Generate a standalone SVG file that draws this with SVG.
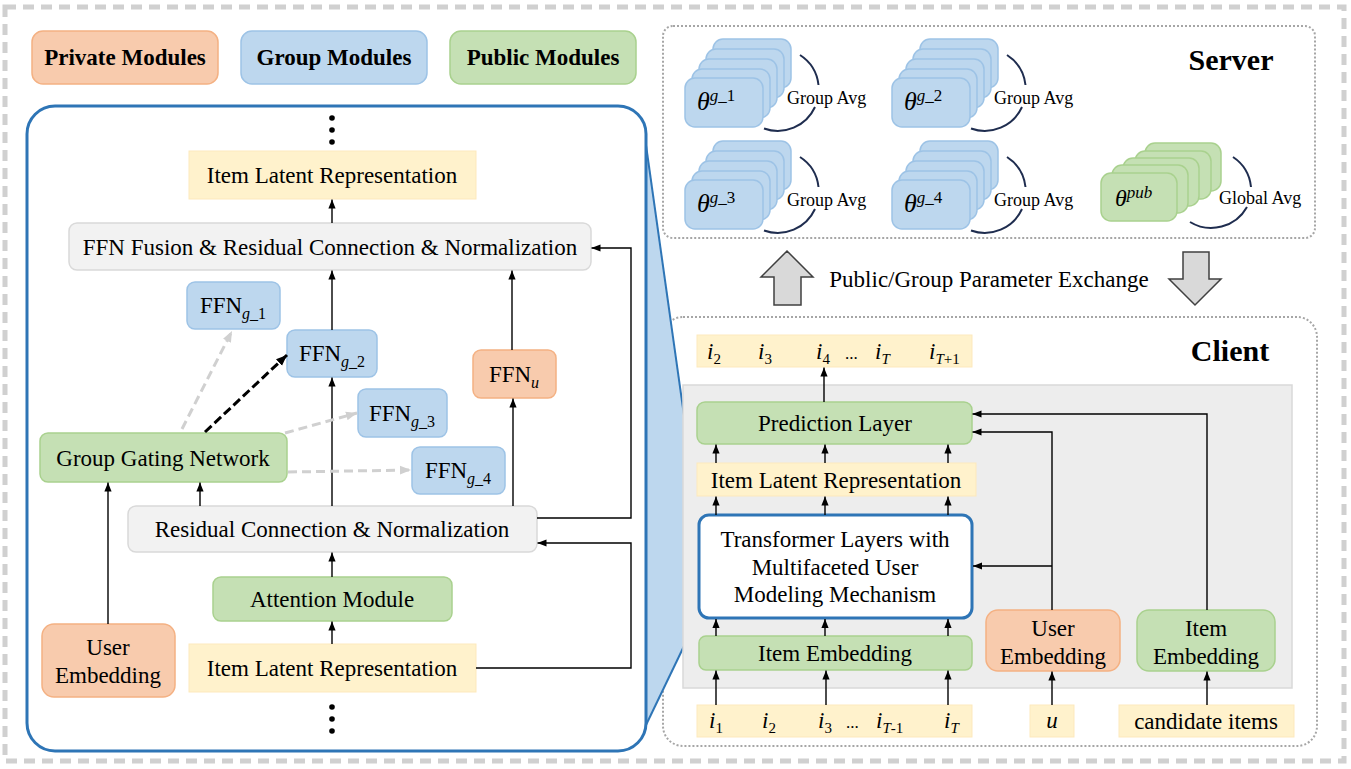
<svg xmlns="http://www.w3.org/2000/svg" width="1351" height="769" viewBox="0 0 1351 769">
<defs>
<marker id="ah" viewBox="0 0 10 10" refX="10" refY="5" markerWidth="9" markerHeight="9" markerUnits="userSpaceOnUse" orient="auto"><path d="M0,1 L10,5 L0,9 z" fill="#000"/></marker>
<marker id="ahg" viewBox="0 0 10 10" refX="10" refY="5" markerWidth="11" markerHeight="11" markerUnits="userSpaceOnUse" orient="auto"><path d="M0,1 L10,5 L0,9 z" fill="#d0d0d0"/></marker>
<marker id="ahk" viewBox="0 0 10 10" refX="10" refY="5" markerWidth="11" markerHeight="11" markerUnits="userSpaceOnUse" orient="auto"><path d="M0,1 L10,5 L0,9 z" fill="#000"/></marker>
</defs>
<style>
text{font-family:"Liberation Serif","Times New Roman",serif;fill:#000}
.t{font-size:23px;text-anchor:middle}
.lg{font-size:23px;font-weight:bold;text-anchor:middle}
.ttl{font-size:30px;font-weight:bold;text-anchor:middle}
.avg{font-size:18px}
.or{fill:#f8cbad;stroke:#f4b183;stroke-width:1.5}
.bl{fill:#bdd7ee;stroke:#9dc3e6;stroke-width:1.5}
.gr{fill:#c5e0b4;stroke:#a9d18e;stroke-width:1.5}
.ye{fill:#fff2cc;stroke:#fde9bd;stroke-width:1}
.gy{fill:#f2f2f2;stroke:#d9d9d9;stroke-width:1.5}
.c{fill:none;stroke:#000;stroke-width:1.4}
.arc{fill:none;stroke:#1f2d4f;stroke-width:2}
.it{font-style:italic}
</style>
<rect width="1351" height="769" fill="#fff"/>
<rect x="5" y="7" width="1339" height="754" fill="none" stroke="#d0d0d0" stroke-width="5" stroke-dasharray="11 7"/>

<g id="legend">
<g id="legend-private"><rect x="32" y="31" width="186" height="53" rx="11" class="or"/><text x="125" y="65" class="lg">Private Modules</text></g>
<g id="legend-group"><rect x="241" y="31" width="186" height="53" rx="11" class="bl"/><text x="334" y="65" class="lg">Group Modules</text></g>
<g id="legend-public"><rect x="450" y="31" width="186" height="53" rx="11" class="gr"/><text x="543" y="65" class="lg">Public Modules</text></g>
</g>

<rect id="server-frame" x="663" y="26" width="652" height="212" rx="10" fill="none" stroke="#a6a6a6" stroke-width="2" stroke-dasharray="2 2"/>
<rect id="client-frame" x="663" y="317" width="654" height="429" rx="20" fill="none" stroke="#a6a6a6" stroke-width="2" stroke-dasharray="2 2"/>

<polygon points="645,138 698,515 698,617 646,725" fill="#bdd7ee"/>
<line x1="645" y1="138" x2="698" y2="515" stroke="#2e75b6" stroke-width="2"/>
<line x1="646" y1="725" x2="698" y2="617" stroke="#2e75b6" stroke-width="2"/>

<rect id="detail-panel" x="27" y="106" width="619" height="645" rx="28" fill="#fff" stroke="#2e75b6" stroke-width="3"/>

<g id="dots-top"><circle cx="332" cy="118" r="2.8"/><circle cx="332" cy="130" r="2.8"/><circle cx="332" cy="142" r="2.8"/></g>
<g id="dots-bottom"><circle cx="332" cy="707" r="2.8"/><circle cx="332" cy="719" r="2.8"/><circle cx="332" cy="731" r="2.8"/></g>

<g id="ilr-top"><rect x="189" y="151" width="287" height="48" class="ye"/><text x="332" y="183" class="t">Item Latent Representation</text></g>
<g id="ffn-fusion"><rect x="69" y="223" width="522" height="47" rx="8" class="gy"/><text x="330" y="255" class="t">FFN Fusion &amp; Residual Connection &amp; Normalization</text></g>
<g id="ffn-g1"><rect x="187" y="282" width="93" height="47" rx="8" class="bl"/><text x="233" y="313" class="t">FFN<tspan font-size="16" dy="6"><tspan class="it">g</tspan>_1</tspan></text></g>
<g id="ffn-g2"><rect x="287" y="330" width="90" height="47" rx="8" class="bl"/><text x="332" y="361" class="t">FFN<tspan font-size="16" dy="6"><tspan class="it">g</tspan>_2</tspan></text></g>
<g id="ffn-g3"><rect x="358" y="389" width="89" height="48" rx="8" class="bl"/><text x="402" y="421" class="t">FFN<tspan font-size="16" dy="6"><tspan class="it">g</tspan>_3</tspan></text></g>
<g id="ffn-g4"><rect x="412" y="447" width="93" height="47" rx="8" class="bl"/><text x="458" y="478" class="t">FFN<tspan font-size="16" dy="6"><tspan class="it">g</tspan>_4</tspan></text></g>
<g id="ffn-u"><rect x="473" y="350" width="83" height="48" rx="8" class="or"/><text x="514" y="382" class="t">FFN<tspan font-size="16" dy="6" class="it">u</tspan></text></g>
<g id="gating"><rect x="40" y="433" width="247" height="49" rx="8" class="gr"/><text x="163" y="466" class="t">Group Gating Network</text></g>
<g id="residual"><rect x="128" y="506" width="409" height="46" rx="8" class="gy"/><text x="332" y="537" class="t">Residual Connection &amp; Normalization</text></g>
<g id="attention"><rect x="213" y="577" width="239" height="44" rx="8" class="gr"/><text x="332" y="607" class="t">Attention Module</text></g>
<g id="user-emb-left"><rect x="42" y="624" width="133" height="73" rx="12" class="or"/><text x="108" y="655" class="t">User</text><text x="108" y="683" class="t">Embedding</text></g>
<g id="ilr-bottom"><rect x="189" y="644" width="287" height="48" class="ye"/><text x="332" y="676" class="t">Item Latent Representation</text></g>

<g id="server">
<text x="1231" y="70" class="ttl">Server</text>
<g id="stack-g1">
<rect x="713" y="39" width="78" height="49" rx="10" class="bl"/>
<rect x="706" y="49" width="78" height="49" rx="10" class="bl"/>
<rect x="699" y="59" width="78" height="49" rx="10" class="bl"/>
<rect x="692" y="69" width="78" height="49" rx="10" class="bl"/>
<rect x="685" y="78" width="78" height="49" rx="10" class="bl"/>
<text x="697" y="110" font-size="26" class="it">θ<tspan font-size="17" dy="-9">g</tspan><tspan font-size="17" font-style="normal">_1</tspan></text>
<path d="M800,55 A41,41 0 0 1 818.5,85" class="arc"/><path d="M815,107 A41,41 0 0 1 764,128.5" class="arc"/>
<text x="787" y="104" class="avg">Group Avg</text>
</g>
<g id="stack-g2">
<rect x="920" y="39" width="78" height="49" rx="10" class="bl"/>
<rect x="913" y="49" width="78" height="49" rx="10" class="bl"/>
<rect x="906" y="59" width="78" height="49" rx="10" class="bl"/>
<rect x="899" y="69" width="78" height="49" rx="10" class="bl"/>
<rect x="892" y="78" width="78" height="49" rx="10" class="bl"/>
<text x="904" y="110" font-size="26" class="it">θ<tspan font-size="17" dy="-9">g</tspan><tspan font-size="17" font-style="normal">_2</tspan></text>
<path d="M1007,55 A41,41 0 0 1 1025.5,85" class="arc"/><path d="M1022,107 A41,41 0 0 1 971,128.5" class="arc"/>
<text x="994" y="104" class="avg">Group Avg</text>
</g>
<g id="stack-g3">
<rect x="713" y="141" width="78" height="49" rx="10" class="bl"/>
<rect x="706" y="151" width="78" height="49" rx="10" class="bl"/>
<rect x="699" y="161" width="78" height="49" rx="10" class="bl"/>
<rect x="692" y="171" width="78" height="49" rx="10" class="bl"/>
<rect x="685" y="180" width="78" height="49" rx="10" class="bl"/>
<text x="697" y="212" font-size="26" class="it">θ<tspan font-size="17" dy="-9">g</tspan><tspan font-size="17" font-style="normal">_3</tspan></text>
<path d="M800,157 A41,41 0 0 1 818.5,187" class="arc"/><path d="M815,209 A41,41 0 0 1 764,230.5" class="arc"/>
<text x="787" y="206" class="avg">Group Avg</text>
</g>
<g id="stack-g4">
<rect x="920" y="141" width="78" height="49" rx="10" class="bl"/>
<rect x="913" y="151" width="78" height="49" rx="10" class="bl"/>
<rect x="906" y="161" width="78" height="49" rx="10" class="bl"/>
<rect x="899" y="171" width="78" height="49" rx="10" class="bl"/>
<rect x="892" y="180" width="78" height="49" rx="10" class="bl"/>
<text x="904" y="212" font-size="26" class="it">θ<tspan font-size="17" dy="-9">g</tspan><tspan font-size="17" font-style="normal">_4</tspan></text>
<path d="M1007,157 A41,41 0 0 1 1025.5,187" class="arc"/><path d="M1022,209 A41,41 0 0 1 971,230.5" class="arc"/>
<text x="994" y="206" class="avg">Group Avg</text>
</g>
<g id="stack-pub">
<rect x="1145" y="143" width="76" height="48" rx="10" class="gr"/>
<rect x="1135" y="151" width="76" height="48" rx="10" class="gr"/>
<rect x="1123" y="158" width="76" height="48" rx="10" class="gr"/>
<rect x="1112" y="165" width="76" height="48" rx="10" class="gr"/>
<rect x="1101" y="173" width="76" height="48" rx="10" class="gr"/>
<text x="1115" y="206" font-size="24" class="it">θ<tspan font-size="17" dy="-8">pub</tspan></text>
<path d="M1233,157 A41,41 0 0 1 1251,187" class="arc"/><path d="M1247,207 A41,41 0 0 1 1190,222" class="arc"/>
<text x="1219" y="204" class="avg">Global Avg</text>
</g>
</g>

<g id="exchange">
<path d="M787,251 L813,277 L801,277 L801,305 L774,305 L774,277 L761,277 Z" fill="#d9d9d9" stroke="#404040" stroke-width="1.5"/>
<path d="M1183,252 L1209,252 L1209,279 L1221,279 L1195,305 L1169,279 L1183,279 Z" fill="#d9d9d9" stroke="#404040" stroke-width="1.5"/>
<text x="989" y="287" font-size="23" text-anchor="middle">Public/Group Parameter Exchange</text>
</g>

<g id="client">
<text x="1230" y="361" class="ttl">Client</text>
<rect x="683" y="385" width="609" height="303" fill="#ededed" stroke="#d9d9d9" stroke-width="1.5"/>
<g id="out-items"><rect x="697" y="335" width="275" height="32" class="ye"/>
<text y="359" font-size="23"><tspan x="707" class="it">i</tspan><tspan font-size="15" dy="5">2</tspan><tspan x="758" dy="-5" class="it">i</tspan><tspan font-size="15" dy="5">3</tspan><tspan x="816" dy="-5" class="it">i</tspan><tspan font-size="15" dy="5">4</tspan><tspan x="845" dy="-5" font-size="17">...</tspan><tspan x="875" class="it">i</tspan><tspan font-size="15" dy="5" class="it">T</tspan><tspan x="929" dy="-5" class="it">i</tspan><tspan font-size="15" dy="5"><tspan class="it">T</tspan>+1</tspan></text></g>
<g id="prediction"><rect x="697" y="402" width="275" height="42" rx="8" class="gr"/><text x="835" y="431" class="t">Prediction Layer</text></g>
<g id="ilr-client"><rect x="697" y="463" width="279" height="33" class="ye"/><text x="836" y="488" class="t">Item Latent Representation</text></g>
<g id="transformer"><rect x="699" y="515" width="273" height="103" rx="10" fill="#fff" stroke="#2e75b6" stroke-width="3"/><text x="835" y="547" class="t">Transformer Layers with</text><text x="835" y="575" class="t">Multifaceted User</text><text x="835" y="602" class="t">Modeling Mechanism</text></g>
<g id="item-emb"><rect x="699" y="636" width="273" height="34" rx="7" class="gr"/><text x="835" y="661" class="t">Item Embedding</text></g>
<g id="user-emb"><rect x="986" y="610" width="134" height="61" rx="12" class="or"/><text x="1053" y="636" class="t">User</text><text x="1053" y="664" class="t">Embedding</text></g>
<g id="item-emb-cand"><rect x="1137" y="610" width="138" height="61" rx="12" class="gr"/><text x="1206" y="636" class="t">Item</text><text x="1206" y="664" class="t">Embedding</text></g>
<g id="in-items"><rect x="697" y="705" width="275" height="32" class="ye"/>
<text y="728" font-size="23"><tspan x="709" class="it">i</tspan><tspan font-size="15" dy="5">1</tspan><tspan x="762" dy="-5" class="it">i</tspan><tspan font-size="15" dy="5">2</tspan><tspan x="818" dy="-5" class="it">i</tspan><tspan font-size="15" dy="5">3</tspan><tspan x="846" dy="-5" font-size="17">...</tspan><tspan x="876" class="it">i</tspan><tspan font-size="15" dy="5"><tspan class="it">T</tspan>-1</tspan><tspan x="944" dy="-5" class="it">i</tspan><tspan font-size="15" dy="5" class="it">T</tspan></text></g>
<g id="u-input"><rect x="1030" y="705" width="44" height="32" class="ye"/><text x="1052" y="728" class="t it">u</text></g>
<g id="cand-input"><rect x="1119" y="705" width="175" height="32" class="ye"/><text x="1206" y="729" class="t">candidate items</text></g>
</g>

<g id="connectors">
<path d="M332,223 L332,199.5" class="c" marker-end="url(#ah)"/>
<path d="M332,330 L332,270.5" class="c" marker-end="url(#ah)"/>
<path d="M512,350 L512,270.5" class="c" marker-end="url(#ah)"/>
<path d="M537,518 L631,518 L631,248 L591.5,248" class="c" stroke="#333" marker-end="url(#ah)"/>
<path d="M476,668 L631,668 L631,543 L537.5,543" class="c" stroke="#333" marker-end="url(#ah)"/>
<path d="M332,644 L332,621.5" class="c" marker-end="url(#ah)"/>
<path d="M332,577 L332,552.5" class="c" marker-end="url(#ah)"/>
<path d="M200,506 L200,482.5" class="c" marker-end="url(#ah)"/>
<path d="M332,506 L332,377.5" class="c" marker-end="url(#ah)"/>
<path d="M513,506 L513,398.5" class="c" marker-end="url(#ah)"/>
<path d="M108,624 L108,482.5" class="c" marker-end="url(#ah)"/>
<path d="M182,429 L232,331" fill="none" stroke="#d0d0d0" stroke-width="3" stroke-dasharray="9 5" marker-end="url(#ahg)"/>
<path d="M205,432 L287,355" fill="none" stroke="#000" stroke-width="3" stroke-dasharray="9 4" marker-end="url(#ahk)"/>
<path d="M285,433 L357,413" fill="none" stroke="#d0d0d0" stroke-width="3" stroke-dasharray="9 5" marker-end="url(#ahg)"/>
<path d="M288,472 L411,470" fill="none" stroke="#d0d0d0" stroke-width="3" stroke-dasharray="9 5" marker-end="url(#ahg)"/>

<path d="M824,402 L824,367.5" class="c" marker-end="url(#ah)"/>
<path d="M716,463 L716,444.5" class="c" marker-end="url(#ah)"/>
<path d="M825,463 L825,444.5" class="c" marker-end="url(#ah)"/>
<path d="M948,463 L948,444.5" class="c" marker-end="url(#ah)"/>
<path d="M716,515 L716,496.5" class="c" marker-end="url(#ah)"/>
<path d="M825,515 L825,496.5" class="c" marker-end="url(#ah)"/>
<path d="M948,515 L948,496.5" class="c" marker-end="url(#ah)"/>
<path d="M716,636 L716,619" class="c" marker-end="url(#ah)"/>
<path d="M825,636 L825,619" class="c" marker-end="url(#ah)"/>
<path d="M948,636 L948,619" class="c" marker-end="url(#ah)"/>
<path d="M716,705 L716,670.5" class="c" marker-end="url(#ah)"/>
<path d="M826,705 L826,670.5" class="c" marker-end="url(#ah)"/>
<path d="M948,705 L948,670.5" class="c" marker-end="url(#ah)"/>
<path d="M1052,705 L1052,671.5" class="c" marker-end="url(#ah)"/>
<path d="M1207,705 L1207,671.5" class="c" marker-end="url(#ah)"/>
<path d="M1052,610 L1052,432 L972.5,432" class="c" marker-end="url(#ah)"/>
<path d="M1052,566 L973,566" class="c" marker-end="url(#ah)"/>
<path d="M1207,610 L1207,414 L972.5,414" class="c" marker-end="url(#ah)"/>
</g>
</svg>
